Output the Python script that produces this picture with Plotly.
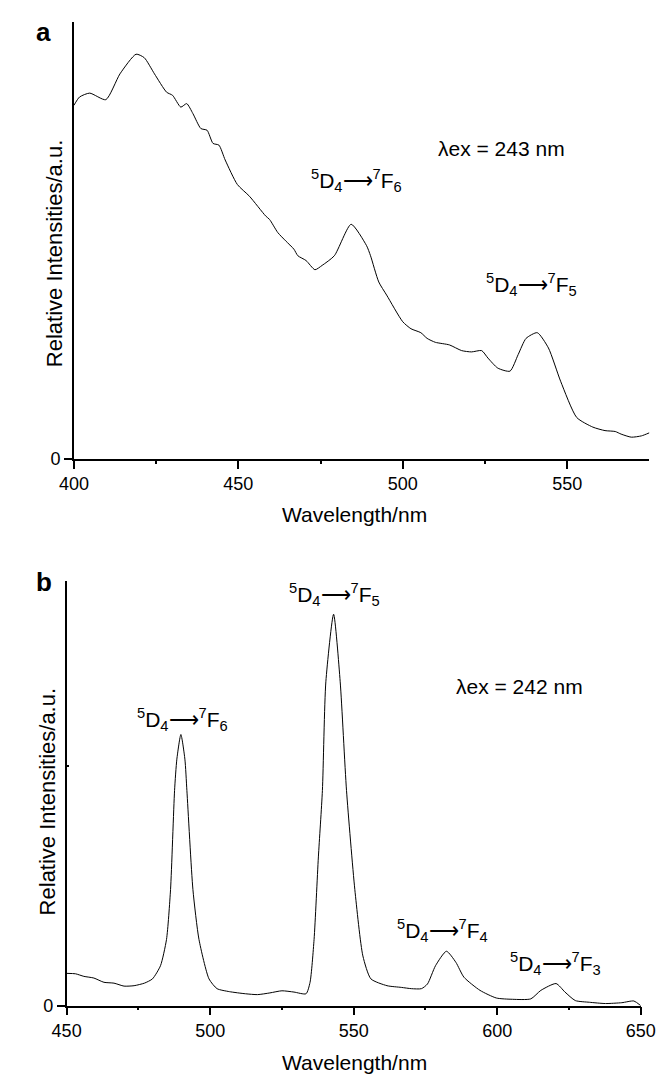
import plotly.graph_objects as go

# panel a: emission spectrum, excitation 243 nm
wl_a = [400.0, 401.7, 404.8, 409.7, 414.0, 418.9, 421.4, 424.5, 428.2, 430.0,
        432.5, 434.3, 436.2, 438.6, 440.5, 442.3, 444.1, 446.0, 449.7, 453.4,
        458.3, 459.5, 462.0, 464.4, 466.9, 468.1, 470.6, 473.3, 475.5, 479.2,
        484.3, 489.0, 490.2, 492.7, 495.1, 500.0, 502.5, 505.5, 507.4, 509.9,
        514.2, 517.9, 520.9, 524.0, 525.9, 528.9, 532.6, 535.1, 537.5, 540.9,
        544.3, 548.0, 552.9, 557.8, 561.5, 564.6, 566.4, 569.5, 572.6, 575.0]
int_a = [80.9, 82.8, 83.7, 82.2, 88.1, 92.6, 91.8, 88.1, 83.9, 83.2,
         80.5, 81.3, 79.0, 75.6, 75.2, 72.2, 71.8, 68.4, 62.8, 60.1,
         55.6, 54.8, 51.8, 49.9, 48.0, 46.5, 45.4, 43.3, 44.3, 46.5,
         53.7, 48.8, 46.5, 40.5, 37.5, 31.4, 29.8, 28.9, 27.6, 26.7,
         26.1, 24.8, 24.5, 24.8, 23.1, 20.8, 20.1, 23.9, 27.6, 28.9,
         25.4, 17.8, 9.5, 7.3, 6.5, 6.3, 5.7, 5.0, 5.3, 6.0]

# panel b: emission spectrum, excitation 242 nm
wl_b = [450.0, 453.1, 456.0, 459.5, 463.0, 466.5, 470.0, 473.5, 477.1, 479.9,
        482.7, 484.8, 486.2, 487.6, 488.4, 489.8, 491.2, 491.9, 494.0, 496.1,
        499.6, 502.4, 506.7, 512.3, 516.5, 520.8, 525.0, 529.2, 533.4, 534.8,
        536.2, 537.7, 539.1, 540.3, 543.0, 545.3, 547.5, 550.4, 553.2, 556.0,
        561.6, 566.6, 570.1, 573.6, 575.7, 578.5, 582.3, 585.6, 588.4, 594.0,
        599.7, 605.3, 611.7, 615.2, 620.5, 623.6, 627.2, 632.1, 637.7, 643.4,
        647.6, 650.0]
int_b = [7.6, 7.5, 6.9, 6.5, 5.5, 5.3, 4.6, 4.7, 5.3, 6.3,
         9.4, 15.6, 27.3, 50.6, 58.0, 63.8, 58.0, 50.6, 27.3, 15.6,
         6.3, 4.0, 3.3, 2.8, 2.6, 3.0, 3.5, 3.2, 2.8, 5.5,
         15.6, 35.0, 50.6, 76.2, 92.1, 76.2, 50.6, 27.3, 11.7, 6.3,
         4.7, 4.3, 4.0, 4.0, 5.1, 9.4, 12.8, 10.2, 6.7, 3.6,
         1.8, 1.5, 1.6, 3.6, 5.2, 3.2, 1.2, 0.8, 0.5, 0.7,
         1.1, 0.0]

ticks_a = [400, 450, 500, 550]
minor_a = [425, 475, 525]
ticks_b = [450, 500, 550, 600, 650]
minor_b = [475, 525, 575, 625]

FONT = "Liberation Sans, Arial, sans-serif"

fig = go.Figure()
fig.add_trace(go.Scatter(x=wl_a, y=int_a, mode="lines", xaxis="x", yaxis="y",
                         line=dict(color="black", width=1, shape="spline", smoothing=0.6)))
fig.add_trace(go.Scatter(x=wl_b, y=int_b, mode="lines", xaxis="x2", yaxis="y2",
                         line=dict(color="black", width=1, shape="spline", smoothing=0.6)))

ax = dict(showline=True, linecolor="black", linewidth=1.5, showgrid=False, zeroline=False,
          ticks="outside", ticklen=8, tickwidth=1.5, tickcolor="black",
          tickfont=dict(family=FONT, size=18, color="black"))

fig.update_layout(
    width=664, height=1076,
    margin=dict(l=0, r=0, t=0, b=0),
    paper_bgcolor="white", plot_bgcolor="white",
    showlegend=False,
    font=dict(family=FONT, color="black"),
    xaxis=dict(ax, domain=[0.0803, 0.988], range=[400, 575], tickvals=ticks_a, anchor="y",
               minor=dict(tickvals=minor_a, ticks="outside", ticklen=3, tickcolor="black")),
    yaxis=dict(ax, domain=[0.5769, 0.987], range=[0, 100], tickvals=[0], anchor="x"),
    xaxis2=dict(ax, domain=[0.0688, 0.9744], range=[450, 650], tickvals=ticks_b, anchor="y2",
                minor=dict(tickvals=minor_b, ticks="outside", ticklen=3, tickcolor="black")),
    yaxis2=dict(ax, domain=[0.0641, 0.4628], range=[0, 100], tickvals=[0], anchor="x2",
                minor=dict(tickvals=[56.4], ticks="inside", ticklen=3, tickcolor="black")),
)

def trans(j):
    return "<sup>5</sup>D<sub>4</sub>\u27f6<sup>7</sup>F<sub>%d</sub>" % j

notes = [
    # (text, x, y, xref, yref)
    (trans(6), 486.0, 63.8, "x", "y"),
    (trans(5), 539.1, 40.0, "x", "y"),
    ("\u03bbex = 243 nm", 530.1, 71.1, "x", "y"),
    (trans(6), 490.3, 67.4, "x2", "y2"),
    (trans(5), 543.2, 96.7, "x2", "y2"),
    (trans(4), 581.1, 17.7, "x2", "y2"),
    (trans(3), 620.4, 10.0, "x2", "y2"),
    ("\u03bbex = 242 nm", 607.7, 75.1, "x2", "y2"),
]
for txt, x, y, xr, yr in notes:
    fig.add_annotation(text=txt, x=x, y=y, xref=xr, yref=yr, showarrow=False,
                       xanchor="center", yanchor="middle",
                       font=dict(family=FONT, size=21, color="black"))

# panel letters
for lab, ypix in (("a", 24), ("b", 579)):
    fig.add_annotation(text="<b>%s</b>" % lab, x=21.5 / 664, y=1 - ypix / 1076,
                       xref="paper", yref="paper", showarrow=False,
                       xanchor="center", yanchor="middle",
                       font=dict(family=FONT, size=26))

# axis titles
for ypix in (511, 1064):
    fig.add_annotation(text="Wavelength/nm", x=347 / 664, y=1 - ypix / 1076,
                       xref="paper", yref="paper", showarrow=False,
                       xanchor="center", yanchor="middle",
                       font=dict(family=FONT, size=21))
for xpix, ypix in ((33, 248), (26, 801)):
    fig.add_annotation(text="Relative Intensities/a.u.", x=xpix / 664, y=1 - ypix / 1076,
                       xref="paper", yref="paper", showarrow=False, textangle=-90,
                       xanchor="center", yanchor="middle",
                       font=dict(family=FONT, size=22))

fig.write_html("out.html")
